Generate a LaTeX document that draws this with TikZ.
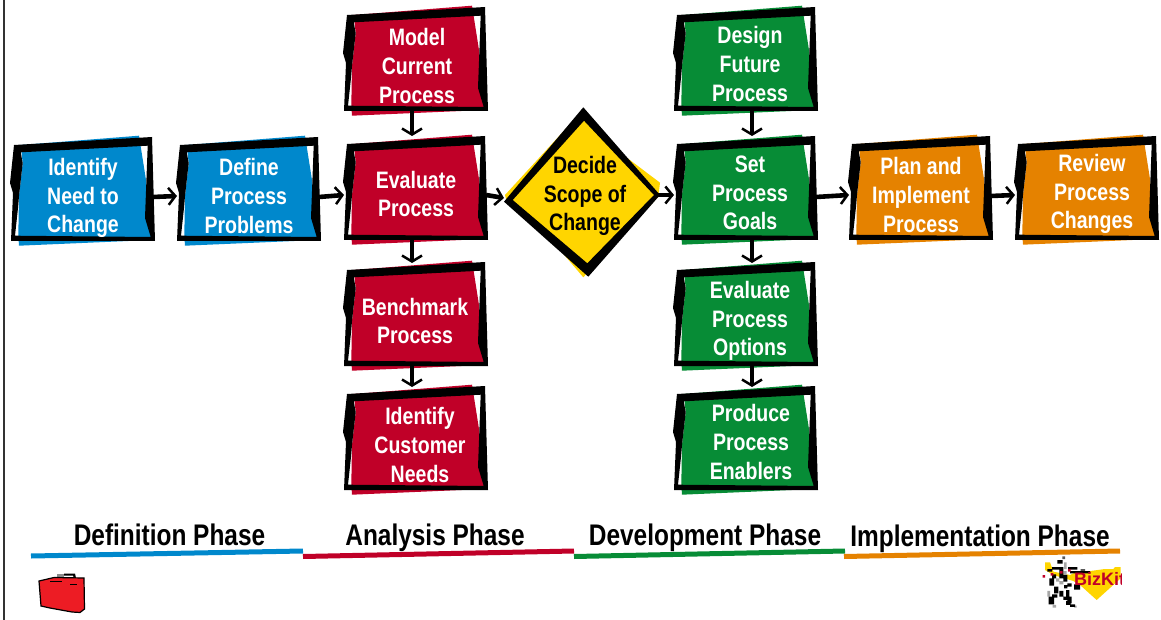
\documentclass[tikz,border=0pt]{standalone}
\usepackage{fontspec}
\setmainfont{Liberation Sans}[FakeStretch=0.82]
\newfontfamily\logofont{Liberation Sans}
\usetikzlibrary{arrows.meta}
\definecolor{cblue}{HTML}{0088CC}
\definecolor{cred}{HTML}{C00028}
\definecolor{cgreen}{HTML}{078C36}
\definecolor{corange}{HTML}{E58200}
\definecolor{cyellow}{HTML}{FFD500}
\definecolor{bagred}{HTML}{ED1C24}
\tikzset{
  boxanchor/.style={rectangle,inner sep=0pt,outer sep=0pt,minimum width=144pt,minimum height=104pt},
  boxtext/.style={align=center,inner sep=0pt,font=\fontsize{23.8}{28.7}\selectfont\bfseries},
  phasetext/.style={inner sep=0pt,font=\fontsize{29.8}{32}\selectfont\bfseries},
  flow/.style={line width=4.6pt,-{Straight Barb[length=7pt,width=17pt,line width=2.5pt]}},
  vflow/.style={line width=4.6pt,-{Straight Barb[length=6pt,width=20pt,line width=2.5pt]}},
  phaseline/.style={line width=5pt},
}
\newcommand{\procbox}[7]{%
  \begin{scope}[shift={(#2,#3)}]
    \fill[#4] (9.7,8)--(128,-1.3)--(135,43)--(140.7,103)--(8,108.7)--(7.3,99)--(8,59)--(11.7,26)--cycle;
    \fill[black,even odd rule] (3,8)--(141,0)--(144,104)--(0,104)--(2,56)--(-1,46)--cycle
      (9.7,15.3)--(136.7,8.7)--(134,81)--(139.7,100)--(4,98.7)--(7,71)--(8,59)--(11.7,26)--cycle;
    \node[boxanchor] (#1) at (72,52) {};
  \end{scope}
  \node[boxtext,text=white] (#1t) at (#5,#6) {#7};
}
\begin{document}
\begin{tikzpicture}[x=1pt,y=-1pt]
\useasboundingbox (0,0) rectangle (1161,620);
\draw[line width=1.3pt,black!80] (4,0) -- (4,620);

\procbox{need}{11}{137}{cblue}{83}{198}{Identify\\Need to\\Change}
\procbox{prob}{177}{137}{cblue}{249}{196}{Define\\Process\\Problems}
\procbox{model}{344}{7}{cred}{417}{66}{Model\\Current\\Process}
\procbox{evalp}{344}{136}{cred}{416}{194}{Evaluate\\Process}
\procbox{bench}{344}{262}{cred}{415}{321}{Benchmark\\Process}
\procbox{cust}{344}{386}{cred}{420}{445}{Identify\\Customer\\Needs}
\procbox{design}{674}{7}{cgreen}{750}{64}{Design\\Future\\Process}
\procbox{goals}{674}{136}{cgreen}{750}{193}{Set\\Process\\Goals}
\procbox{opts}{674}{262}{cgreen}{750}{321}{Evaluate\\Process\\Options}
\procbox{enab}{674}{386}{cgreen}{751}{442}{Produce\\Process\\Enablers}
\procbox{plan}{849}{136}{corange}{921}{195}{Plan and\\Implement\\Process}
\procbox{review}{1015}{136}{corange}{1092}{194}{Review\\Process\\Changes}

% diamond
\fill[cyellow] (505,195)--(580,113.3)--(583.3,116.7)--(623.3,155)--(660,182.7)--(658.3,196.7)--(583.3,277.3)--(560,250)--(506.7,201.7)--cycle;
\fill[black,even odd rule] (583.3,107.3)--(660,195)--(588.3,276.7)--(504,201.7)--cycle
  (584,120.7)--(654,195)--(587.3,263.3)--(512.7,200)--cycle;
\node[rectangle,inner sep=0pt,outer sep=0pt,minimum width=156pt,minimum height=170pt] (dec) at (582,192) {};
\node[boxtext,text=black] (dect) at (585,196) {Decide\\Scope of\\Change};

% connectors
\draw[flow] ([shift={(-2pt,-8pt)}]need.east) -- ([yshift=-7pt]prob.west);
\draw[flow] ([shift={(-2pt,-8pt)}]prob.east) -- ([yshift=-7pt]evalp.west);
\draw[flow] ([shift={(-2pt,-7pt)}]evalp.east) -- ([yshift=-6pt]dec.west);
\draw[flow] ([shift={(-2pt,-3pt)}]dec.east) -- ([yshift=-7pt]goals.west);
\draw[flow] ([shift={(-2pt,-9pt)}]goals.east) -- ([yshift=-7pt]plan.west);
\draw[flow] ([shift={(-2pt,-8pt)}]plan.east) -- ([yshift=-7pt]review.west);
\draw[vflow] ([xshift=-4pt]model.south) -- ([xshift=-4pt]evalp.north);
\draw[vflow] ([xshift=-4pt]evalp.south) -- ([shift={(-4pt,-1pt)}]bench.north);
\draw[vflow] ([xshift=-4pt]bench.south) -- ([shift={(-4pt,-1pt)}]cust.north);
\draw[vflow] ([xshift=6pt]design.south) -- ([xshift=6pt]goals.north);
\draw[vflow] ([xshift=6pt]goals.south) -- ([shift={(6pt,-1pt)}]opts.north);
\draw[vflow] ([xshift=6pt]opts.south) -- ([shift={(6pt,-1pt)}]enab.north);

% phases
\draw[phaseline,cblue] (31,556) -- (303,551);
\draw[phaseline,cred] (303,556.5) -- (574,551);
\draw[phaseline,cgreen] (574,556.5) -- (845,551);
\draw[phaseline,corange] (844,556.5) -- (1120,551);
\node[phasetext] (ph1) at (169.5,535) {Definition Phase};
\node[phasetext] (ph2) at (435,538) {Analysis Phase};
\node[phasetext] (ph3) at (705,538) {Development Phase};
\node[phasetext] (ph4) at (980,539) {Implementation Phase};

% bag
\fill[black!45] (57,574) rectangle (64,577);
\fill[black] (64,573.5)--(75,573.5)--(76,578)--(74,578)--(73,575.5)--(64,575.5)--cycle;
\fill[bagred,draw=black,line width=1.2pt] (39,581)--(54,577.5)--(84,578)--(84.5,609)--(80,612.5)--(72,612)--(50,608)--(41,606)--cycle;
\draw[black,line width=.8pt] (50,581)--(62,581) (70,584)--(77,584);

% logo
\begin{scope}[shift={(1030,545)},x=0.3333pt,y=-0.3333pt]
\fill[cyellow] (45,52)--(60,52)--(70,80)--(120,90)--(130,85)--(225,72)--(250,72)--(255,66)--(272,66)--(272,100)--(200,165)--(150,120)--(130,108)--(70,90)--(45,75)--cycle;
\fill[black!35] (52,138) rectangle (60,155) (78,100) rectangle (88,110) (88,108) rectangle (100,118) (102,52) rectangle (110,72) (100,78) rectangle (110,90) (68,180) rectangle (78,188) (132,182) rectangle (140,188);
\fill[black!65] (97,34) rectangle (105,42) (152,72) rectangle (165,78);
\fill[black] (82,45) rectangle (98,56) (66,66) rectangle (100,74) (52,72) rectangle (66,80) (114,66) rectangle (142,74) (120,78) rectangle (180,85) (66,88) rectangle (78,100) (58,100) rectangle (72,122) (88,72) rectangle (100,100) (100,90) rectangle (112,110) (112,115) rectangle (125,125) (102,120) rectangle (112,130) (132,118) rectangle (150,134) (108,135) rectangle (118,155) (88,138) rectangle (100,155) (72,125) rectangle (85,145) (56,155) rectangle (72,178) (66,148) rectangle (82,158) (100,155) rectangle (112,165) (112,155) rectangle (125,175) (108,168) rectangle (122,180) (120,178) rectangle (135,186);
\fill[cred] (38,90) rectangle (45,98) (62,84) rectangle (70,92) (90,78) rectangle (98,86) (114,72) rectangle (122,80);
\end{scope}
\begin{scope}
\clip (1070,565) rectangle (1121,592);
\node[inner sep=0pt,anchor=west,text=cred,font=\logofont\fontsize{18}{18}\selectfont\bfseries] (logo) at (1074,579.5) {BizKit};
\end{scope}
\end{tikzpicture}
\end{document}
